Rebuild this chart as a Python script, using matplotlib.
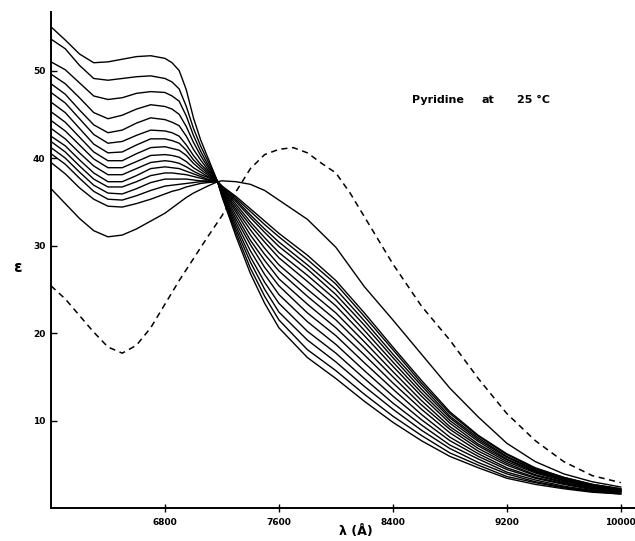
import matplotlib
matplotlib.use("Agg")
import matplotlib.pyplot as plt

# wavelengths (Angstrom) for the solid curves
wl = [6000, 6100, 6200, 6300, 6400, 6500, 6600, 6700, 6800, 6850, 6900, 6950, 7000,
      7050, 7100, 7170, 7200, 7300, 7400, 7500, 7600, 7800, 8000, 8200, 8400, 8600,
      8800, 9000, 9200, 9400, 9600, 9800, 10000]

# solid curves, top (at 6000 A) to bottom
c0 = [55.0, 53.5, 51.9, 50.9, 51.0, 51.3, 51.6, 51.7, 51.4, 50.9, 50.0, 47.8, 44.6, 42.1, 40.1, 37.3, 35.6, 31.0, 26.8, 23.4, 20.6, 17.2, 14.8, 12.2, 9.8, 7.7, 5.9, 4.6, 3.4, 2.7, 2.2, 1.8, 1.6]
c1 = [53.6, 52.5, 50.6, 49.1, 48.9, 49.1, 49.3, 49.4, 49.1, 48.7, 47.9, 45.9, 43.4, 41.4, 39.7, 37.3, 35.7, 31.4, 27.4, 24.2, 21.5, 18.1, 15.7, 13.0, 10.5, 8.3, 6.3, 4.9, 3.6, 2.9, 2.3, 1.9, 1.6]
c2 = [51.0, 50.1, 48.6, 47.1, 46.7, 46.9, 47.4, 47.6, 47.5, 47.1, 46.5, 44.8, 42.6, 40.8, 39.3, 37.3, 35.8, 31.8, 28.1, 25.0, 22.4, 19.2, 16.7, 13.9, 11.3, 8.9, 6.8, 5.2, 3.9, 3.0, 2.4, 1.9, 1.7]
c3 = [49.6, 48.5, 46.9, 45.2, 44.5, 44.9, 45.6, 46.1, 45.9, 45.6, 45.0, 43.6, 41.8, 40.3, 39.0, 37.3, 35.9, 32.2, 28.7, 25.8, 23.4, 20.2, 17.7, 14.8, 12.0, 9.5, 7.2, 5.6, 4.1, 3.2, 2.5, 2.0, 1.8]
c4 = [48.5, 47.3, 45.5, 43.8, 42.9, 43.2, 44.0, 44.6, 44.4, 44.1, 43.7, 42.5, 41.0, 39.8, 38.7, 37.3, 36.0, 32.6, 29.4, 26.7, 24.4, 21.3, 18.7, 15.7, 12.8, 10.1, 7.7, 5.9, 4.4, 3.4, 2.7, 2.1, 1.8]
c5 = [47.5, 46.3, 44.5, 42.7, 41.7, 41.9, 42.6, 43.2, 43.1, 42.9, 42.5, 41.5, 40.3, 39.3, 38.5, 37.3, 36.1, 33.0, 30.1, 27.5, 25.4, 22.3, 19.7, 16.6, 13.6, 10.7, 8.1, 6.2, 4.6, 3.5, 2.8, 2.2, 1.9]
c6 = [46.4, 45.2, 43.4, 41.6, 40.6, 40.7, 41.5, 42.2, 42.2, 42.0, 41.7, 40.9, 39.8, 39.0, 38.3, 37.3, 36.2, 33.4, 30.6, 28.3, 26.2, 23.3, 20.6, 17.5, 14.3, 11.3, 8.6, 6.5, 4.9, 3.7, 2.9, 2.3, 1.9]
c7 = [45.3, 44.1, 42.4, 40.7, 39.7, 39.7, 40.5, 41.2, 41.3, 41.1, 40.9, 40.3, 39.4, 38.7, 38.1, 37.3, 36.3, 33.8, 31.2, 29.0, 27.1, 24.2, 21.5, 18.3, 15.0, 11.8, 9.0, 6.8, 5.1, 3.8, 3.0, 2.3, 2.0]
c8 = [44.3, 43.1, 41.5, 39.9, 38.9, 38.9, 39.6, 40.3, 40.4, 40.3, 40.1, 39.6, 38.9, 38.4, 37.9, 37.3, 36.4, 34.1, 31.8, 29.7, 27.8, 25.0, 22.3, 19.0, 15.6, 12.3, 9.3, 7.1, 5.3, 4.0, 3.1, 2.4, 2.0]
c9 = [43.4, 42.2, 40.6, 39.1, 38.1, 38.1, 38.8, 39.5, 39.7, 39.6, 39.4, 39.0, 38.5, 38.1, 37.8, 37.3, 36.5, 34.4, 32.3, 30.4, 28.6, 25.9, 23.1, 19.7, 16.2, 12.8, 9.7, 7.3, 5.5, 4.1, 3.2, 2.5, 2.0]
c10 = [42.5, 41.4, 39.8, 38.3, 37.3, 37.3, 38.0, 38.8, 39.0, 38.9, 38.8, 38.5, 38.2, 37.9, 37.6, 37.3, 36.6, 34.7, 32.7, 30.9, 29.2, 26.6, 23.8, 20.3, 16.7, 13.2, 10.0, 7.6, 5.6, 4.2, 3.2, 2.5, 2.1]
c11 = [41.9, 40.7, 39.1, 37.6, 36.7, 36.7, 37.3, 38.0, 38.3, 38.3, 38.2, 38.1, 37.9, 37.7, 37.5, 37.3, 36.6, 35.0, 33.2, 31.5, 29.9, 27.3, 24.4, 20.9, 17.2, 13.6, 10.3, 7.8, 5.8, 4.3, 3.3, 2.6, 2.1]
c12 = [41.2, 40.0, 38.4, 36.9, 36.0, 35.9, 36.5, 37.2, 37.6, 37.6, 37.6, 37.6, 37.5, 37.4, 37.4, 37.3, 36.7, 35.2, 33.5, 31.9, 30.4, 27.8, 25.0, 21.4, 17.6, 14.0, 10.5, 8.0, 5.9, 4.4, 3.4, 2.6, 2.1]
c13 = [40.5, 39.3, 37.7, 36.2, 35.3, 35.2, 35.7, 36.3, 36.8, 36.9, 37.0, 37.1, 37.2, 37.3, 37.3, 37.3, 36.8, 35.4, 33.9, 32.4, 31.0, 28.4, 25.6, 21.9, 18.1, 14.3, 10.8, 8.2, 6.1, 4.5, 3.5, 2.7, 2.2]
c14 = [39.5, 38.2, 36.6, 35.3, 34.5, 34.4, 34.8, 35.3, 35.9, 36.2, 36.4, 36.7, 36.9, 37.1, 37.2, 37.3, 36.8, 35.6, 34.2, 32.8, 31.4, 28.9, 26.0, 22.3, 18.4, 14.6, 11.0, 8.3, 6.2, 4.6, 3.5, 2.7, 2.2]
c15 = [36.5, 34.8, 33.1, 31.7, 31.0, 31.2, 31.9, 32.8, 33.7, 34.3, 34.9, 35.5, 36.0, 36.4, 36.8, 37.3, 37.4, 37.3, 37.0, 36.3, 35.2, 33.0, 29.8, 25.3, 21.5, 17.6, 13.7, 10.4, 7.4, 5.3, 3.9, 3.0, 2.4]

# dashed curve
wl_d = [6000, 6100, 6200, 6300, 6400, 6500, 6600, 6700, 6800, 6900, 7000, 7100, 7200,
        7300, 7400, 7500, 7600, 7700, 7800, 7900, 8000, 8100, 8200, 8300, 8400, 8600,
        8800, 9000, 9200, 9400, 9600, 9800, 10000]
dashed = [25.4, 23.9, 22.0, 20.1, 18.4, 17.7, 18.6, 20.6, 23.3, 26.0, 28.5, 31.0, 33.4,
          36.2, 38.8, 40.4, 41.0, 41.2, 40.6, 39.4, 38.3, 36.0, 33.3, 30.6, 27.9, 23.1,
          19.2, 14.8, 10.8, 7.7, 5.3, 3.7, 2.9]

xticks = [6800, 7600, 8400, 9200, 10000]
yticks = [10, 20, 30, 40, 50]

fig = plt.figure(figsize=(6.35, 5.41), dpi=100)
ax = fig.add_axes([51/635, 33/541, 584/635, 496/541])

for c in [c0, c1, c2, c3, c4, c5, c6, c7, c8, c9, c10, c11, c12, c13, c14, c15]:
    ax.plot(wl, c, color="black", linewidth=1.0)
ax.plot(wl_d, dashed, color="black", linewidth=1.1, linestyle=(0, (4, 3)))

ax.set_xlim(6000, 10100)
ax.set_ylim(0, 56.7)
ax.set_xticks(xticks)
ax.set_xticklabels([str(t) for t in xticks])
ax.set_yticks(yticks)
ax.set_yticklabels([str(t) for t in yticks])

tickfont = {"family": "DejaVu Sans", "weight": "bold", "size": 6.5}
for lab in ax.get_xticklabels() + ax.get_yticklabels():
    lab.set_fontproperties(tickfont)
ax.tick_params(axis="x", direction="inout", length=6, width=1.0, pad=4)
ax.tick_params(axis="y", direction="in", length=4, width=1.0, pad=4)

ax.spines["top"].set_visible(False)
ax.spines["right"].set_visible(False)
ax.spines["left"].set_linewidth(1.4)
ax.spines["bottom"].set_linewidth(1.4)

fig.text(17/635, 1 - 267/541, "\u03b5", fontsize=11, fontweight="bold", ha="center", va="center")
fig.text(356/635, 1 - 532/541, "\u03bb (\u00c5)", fontsize=9, fontweight="bold", ha="center", va="center")

# label words spaced out like the original lettering
font3 = {"family": "DejaVu Sans", "weight": "bold", "size": 8}
fig.text(412/635, 1 - 100/541, "Pyridine", fontdict=font3, ha="left", va="center")
fig.text(482/635, 1 - 100/541, "at", fontdict=font3, ha="left", va="center")
fig.text(517/635, 1 - 100/541, "25 \u00b0C", fontdict=font3, ha="left", va="center")

fig.savefig("out.png", dpi=100, facecolor="white")
